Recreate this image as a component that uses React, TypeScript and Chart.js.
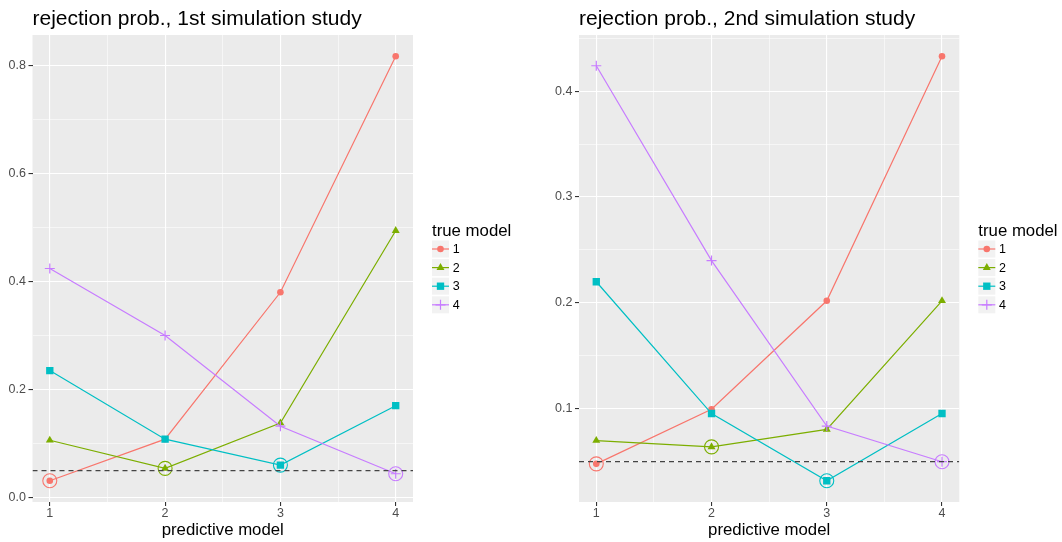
import React, { useEffect, useRef } from 'react';
import { Chart, registerables } from 'chart.js';

Chart.register(...registerables);

// ---------- data ----------
const PREDICTIVE_MODELS = [1, 2, 3, 4];
const TRUE_MODELS = ['1', '2', '3', '4'];

const STUDY1_TRUE1 = [0.031, 0.108, 0.38, 0.817];
const STUDY1_TRUE2 = [0.106, 0.054, 0.138, 0.494];
const STUDY1_TRUE3 = [0.235, 0.108, 0.06, 0.17];
const STUDY1_TRUE4 = [0.424, 0.3, 0.132, 0.044];

const STUDY2_TRUE1 = [0.048, 0.0995, 0.202, 0.433];
const STUDY2_TRUE2 = [0.07, 0.064, 0.0805, 0.202];
const STUDY2_TRUE3 = [0.22, 0.0955, 0.032, 0.0955];
const STUDY2_TRUE4 = [0.424, 0.24, 0.0837, 0.05];

const X_MAJOR_TICKS = [1, 2, 3, 4];
const X_MINOR_TICKS = [1.5, 2.5, 3.5];
const STUDY1_Y_MAJOR = [0, 0.2, 0.4, 0.6, 0.8];
const STUDY1_Y_MINOR = [0.1, 0.3, 0.5, 0.7];
const STUDY2_Y_MAJOR = [0.1, 0.2, 0.3, 0.4];
const STUDY2_Y_MINOR = [0.05, 0.15, 0.25, 0.35, 0.45];

const ALPHA_LEVEL = 0.05;

const TITLE_1 = 'rejection prob., 1st simulation study';
const TITLE_2 = 'rejection prob., 2nd simulation study';
const X_TITLE = 'predictive model';
const LEGEND_TITLE = 'true model';

// ---------- styles ----------
const SERIES_COLORS = ['#F8766D', '#7CAE00', '#00BFC4', '#C77CFF'];
const SERIES_SHAPES = ['circle', 'triangle', 'rect', 'cross'];
const SERIES_RADII = [3.3, 4.6, 5.2, 5];
const FONT = "'Liberation Sans', Arial, Helvetica, sans-serif";

const has = (arr: number[], v: number) => arr.some((a) => Math.abs(a - v) < 1e-9);

function drawShape(ctx: CanvasRenderingContext2D, shape: string, x: number, y: number, r: number, color: string) {
  ctx.save();
  ctx.fillStyle = color;
  ctx.strokeStyle = color;
  ctx.lineWidth = 1.2;
  ctx.beginPath();
  if (shape === 'circle') {
    ctx.arc(x, y, r, 0, Math.PI * 2);
    ctx.fill();
  } else if (shape === 'triangle') {
    for (let k = 0; k < 3; k++) {
      const a = (k * 2 * Math.PI) / 3;
      const px = x + Math.sin(a) * r;
      const py = y - Math.cos(a) * r;
      if (k === 0) ctx.moveTo(px, py);
      else ctx.lineTo(px, py);
    }
    ctx.closePath();
    ctx.fill();
  } else if (shape === 'rect') {
    const s = r * Math.SQRT1_2;
    ctx.rect(x - s, y - s, 2 * s, 2 * s);
    ctx.fill();
  } else {
    ctx.moveTo(x - r, y);
    ctx.lineTo(x + r, y);
    ctx.moveTo(x, y - r);
    ctx.lineTo(x, y + r);
    ctx.stroke();
  }
  ctx.restore();
}

const panelBgPlugin = {
  id: 'panelBg',
  beforeDraw(chart: any) {
    const { ctx, chartArea: a } = chart;
    ctx.save();
    ctx.fillStyle = '#EBEBEB';
    ctx.fillRect(a.left, a.top, a.right - a.left, a.bottom - a.top);
    ctx.restore();
  },
};

const hlinePlugin = {
  id: 'hline',
  afterDatasetsDraw(chart: any) {
    const { ctx, chartArea: a } = chart;
    const y = chart.scales.y.getPixelForValue(ALPHA_LEVEL);
    ctx.save();
    ctx.beginPath();
    ctx.rect(a.left, a.top, a.right - a.left, a.bottom - a.top);
    ctx.clip();
    ctx.strokeStyle = '#444444';
    ctx.lineWidth = 1.25;
    ctx.setLineDash([5, 4]);
    ctx.beginPath();
    ctx.moveTo(a.left, y);
    ctx.lineTo(a.right, y);
    ctx.stroke();
    ctx.restore();
  },
};

const legendPlugin = {
  id: 'ggLegend',
  afterDraw(chart: any) {
    const { ctx, chartArea: a } = chart;
    const lx = a.right + 19;
    ctx.save();
    ctx.fillStyle = '#000000';
    ctx.font = `16.8px ${FONT}`;
    ctx.textAlign = 'left';
    ctx.textBaseline = 'alphabetic';
    ctx.fillText(LEGEND_TITLE, lx, 236);
    const key = 17;
    TRUE_MODELS.forEach((lab, i) => {
      const cy = 249 + i * 18.6;
      ctx.fillStyle = '#F2F2F2';
      ctx.fillRect(lx, cy - key / 2, key, key);
      ctx.strokeStyle = SERIES_COLORS[i];
      ctx.lineWidth = 1.2;
      ctx.beginPath();
      ctx.moveTo(lx, cy);
      ctx.lineTo(lx + key, cy);
      ctx.stroke();
      drawShape(ctx, SERIES_SHAPES[i], lx + key / 2, cy, SERIES_RADII[i], SERIES_COLORS[i]);
      ctx.fillStyle = '#000000';
      ctx.font = `12.5px ${FONT}`;
      ctx.textBaseline = 'middle';
      ctx.fillText(lab, lx + key + 3.7, cy + 0.5);
      ctx.textBaseline = 'alphabetic';
    });
    ctx.restore();
  },
};

type PanelCfg = {
  title: string;
  series: number[][];
  yMajor: number[];
  yMinor: number[];
  yAxisWidth: number;
  padRight: number;
};

function makeChart(canvas: HTMLCanvasElement, cfg: PanelCfg) {
  const all = cfg.series.flat();
  const lo = Math.min(...all);
  const hi = Math.max(...all);
  const pad = (hi - lo) * 0.05;
  const xMin = Math.min(...PREDICTIVE_MODELS);
  const xMax = Math.max(...PREDICTIVE_MODELS);
  const xPad = (xMax - xMin) * 0.05;

  const datasets: any[] = cfg.series.map((vals, i) => ({
    label: TRUE_MODELS[i],
    data: PREDICTIVE_MODELS.map((x, j) => ({ x, y: vals[j] })),
    borderColor: SERIES_COLORS[i],
    backgroundColor: SERIES_COLORS[i],
    borderWidth: 1.2,
    pointStyle: SERIES_SHAPES[i],
    pointRadius: SERIES_RADII[i],
    pointBorderWidth: SERIES_SHAPES[i] === 'cross' ? 1.2 : 0,
    pointBackgroundColor: SERIES_COLORS[i],
    pointBorderColor: SERIES_COLORS[i],
    tension: 0,
    order: 10 - i,
  }));
  datasets.push({
    label: 'true = predictive',
    data: PREDICTIVE_MODELS.map((x, j) => ({ x, y: cfg.series[j][j] })),
    showLine: false,
    pointStyle: 'circle',
    pointRadius: 7,
    pointBorderWidth: 1.1,
    pointBorderColor: SERIES_COLORS,
    pointBackgroundColor: 'rgba(0,0,0,0)',
    order: 0,
  });

  const tickFont = { family: FONT, size: 12.5 };
  const gridFor = (major: number[]) => ({
    color: '#FFFFFF',
    lineWidth: (c: any) => (has(major, c.tick.value) ? 1.1 : 0.55),
    drawTicks: true,
    tickLength: 4,
    tickColor: (c: any) => (has(major, c.tick.value) ? '#333333' : 'rgba(0,0,0,0)'),
    tickWidth: 1.1,
  });

  return new Chart(canvas, {
    type: 'line',
    data: { datasets },
    plugins: [panelBgPlugin, hlinePlugin, legendPlugin],
    options: {
      animation: false,
      responsive: false,
      devicePixelRatio: 1,
      events: [],
      layout: { padding: { left: 0, right: cfg.padRight, top: 0, bottom: 0 } },
      plugins: {
        legend: { display: false },
        tooltip: { enabled: false },
        title: {
          display: true,
          text: cfg.title,
          align: 'start',
          fullSize: false,
          color: '#000000',
          font: { family: FONT, size: 21, weight: 'normal' },
          padding: { top: 6.6, bottom: 3.2 },
        },
      },
      scales: {
        x: {
          type: 'linear',
          min: xMin - xPad,
          max: xMax + xPad,
          afterBuildTicks: (s: any) => {
            s.ticks = [...X_MAJOR_TICKS, ...X_MINOR_TICKS].sort((p, q) => p - q).map((v) => ({ value: v }));
          },
          afterFit: (s: any) => {
            s.height = 40;
          },
          grid: gridFor(X_MAJOR_TICKS),
          border: { display: false },
          ticks: {
            autoSkip: false,
            maxRotation: 0,
            padding: 0,
            color: '#4D4D4D',
            font: tickFont,
            callback: (v: any) => (has(X_MAJOR_TICKS, v) ? String(v) : ''),
          },
          title: {
            display: true,
            text: X_TITLE,
            color: '#000000',
            font: { family: FONT, size: 16.8 },
            padding: { top: 0, bottom: 2 },
          },
        },
        y: {
          type: 'linear',
          min: lo - pad,
          max: hi + pad,
          afterBuildTicks: (s: any) => {
            s.ticks = [...cfg.yMajor, ...cfg.yMinor].sort((p, q) => p - q).map((v) => ({ value: v }));
          },
          afterFit: (s: any) => {
            s.width = cfg.yAxisWidth;
          },
          grid: gridFor(cfg.yMajor),
          border: { display: false },
          ticks: {
            autoSkip: false,
            padding: 2.5,
            color: '#4D4D4D',
            font: tickFont,
            callback: (v: any) => (has(cfg.yMajor, v) ? Number(v).toFixed(1) : ''),
          },
        },
      },
    } as any,
  });
}

function Panel({ cfg, left }: { cfg: PanelCfg; left: number }) {
  const ref = useRef<HTMLCanvasElement | null>(null);
  useEffect(() => {
    if (!ref.current) return;
    const chart = makeChart(ref.current, cfg);
    return () => chart.destroy();
  }, []);
  return (
    <div style={{ position: 'absolute', left, top: 0, width: 531, height: 542 }}>
      <canvas ref={ref} width={531} height={542} style={{ display: 'block', width: 531, height: 542 }} />
    </div>
  );
}

const PANEL_1: PanelCfg = {
  title: TITLE_1,
  series: [STUDY1_TRUE1, STUDY1_TRUE2, STUDY1_TRUE3, STUDY1_TRUE4],
  yMajor: STUDY1_Y_MAJOR,
  yMinor: STUDY1_Y_MINOR,
  yAxisWidth: 32.5,
  padRight: 118,
};

const PANEL_2: PanelCfg = {
  title: TITLE_2,
  series: [STUDY2_TRUE1, STUDY2_TRUE2, STUDY2_TRUE3, STUDY2_TRUE4],
  yMajor: STUDY2_Y_MAJOR,
  yMinor: STUDY2_Y_MINOR,
  yAxisWidth: 48,
  padRight: 102.7,
};

export default function App() {
  return (
    <div style={{ position: 'absolute', left: 0, top: 0, width: 1062, height: 542, background: '#FFFFFF' }}>
      <Panel cfg={PANEL_1} left={0} />
      <Panel cfg={PANEL_2} left={531} />
    </div>
  );
}
